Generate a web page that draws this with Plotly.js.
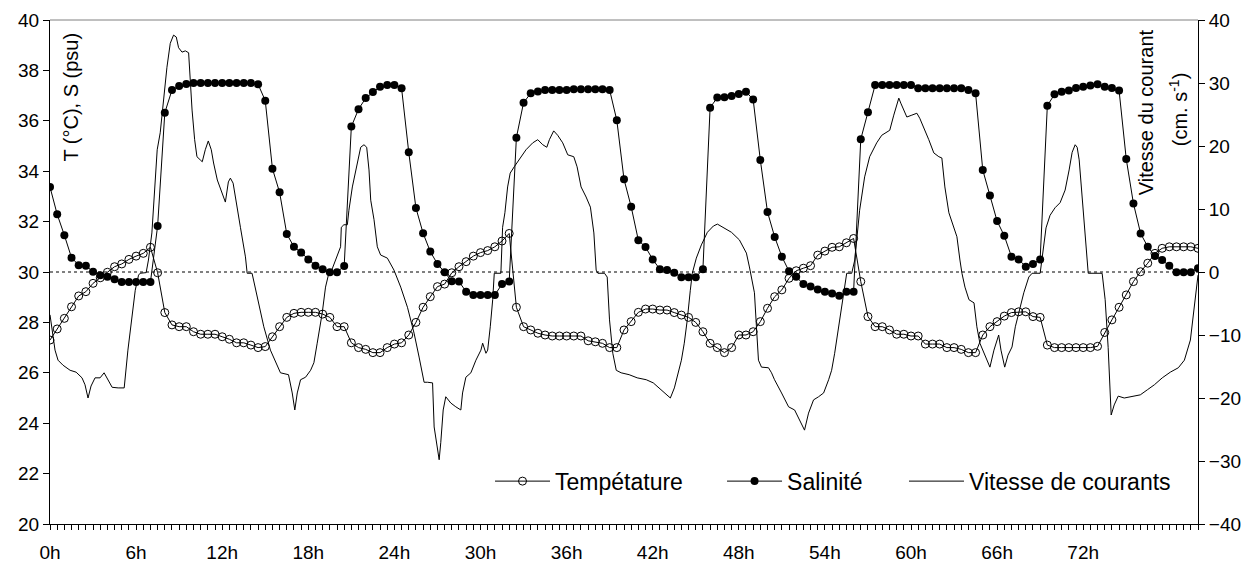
<!DOCTYPE html>
<html>
<head>
<meta charset="utf-8">
<script src="https://cdn.plot.ly/plotly-3.0.1.min.js"></script>
<style>
  html, body { margin: 0; padding: 0; background: #fff; }
  #chart { width: 1254px; height: 565px; }
</style>
</head>
<body>
<div id="chart"></div>
<script>
// Half-hourly sampling of temperature and salinity (hours 0 to 80)
const STEP_H = 0.5;

const temperature = [
  27.3, 27.74, 28.16, 28.62, 29.05, 29.22, 29.55, 29.77, 29.99, 30.21,
  30.32, 30.5, 30.63, 30.74, 30.98, 29.97, 28.39, 27.9, 27.83, 27.83,
  27.63, 27.53, 27.53, 27.53, 27.43, 27.33, 27.19, 27.19, 27.1, 27.0,
  27.04, 27.43, 27.83, 28.2, 28.36, 28.4, 28.4, 28.4, 28.33, 28.2,
  27.83, 27.83, 27.19, 27.0, 26.93, 26.8, 26.8, 27.0, 27.14, 27.19,
  27.5, 28.0, 28.6, 29.02, 29.42, 29.52, 29.97, 30.21, 30.41, 30.63,
  30.77, 30.85, 31.0, 31.23, 31.53, 28.6, 27.83, 27.7, 27.57, 27.5,
  27.46, 27.46, 27.46, 27.46, 27.46, 27.27, 27.23, 27.17, 27.0, 27.0,
  27.7, 28.03, 28.4, 28.53, 28.53, 28.49, 28.49, 28.39, 28.29, 28.2,
  28.0, 27.63, 27.17, 27.0, 26.8, 27.0, 27.5, 27.5, 27.63, 28.03,
  28.56, 29.02, 29.29, 29.75, 30.05, 30.15, 30.25, 30.67, 30.83, 30.98,
  31.0, 31.16, 31.33, 29.62, 28.23, 27.83, 27.83, 27.7, 27.53, 27.53,
  27.46, 27.46, 27.14, 27.14, 27.14, 27.0, 27.0, 26.93, 26.8, 26.8,
  27.5, 27.83, 28.03, 28.25, 28.39, 28.42, 28.42, 28.23, 28.2, 27.1,
  27.0, 27.0, 27.0, 27.0, 27.0, 27.0, 27.05, 27.6, 28.1, 28.6,
  29.09, 29.62, 30.01, 30.35, 30.74, 30.94, 31.0, 31.0, 31.0, 31.0,
  30.94
];

const salinity = [
  33.37, 32.29, 31.46, 30.57, 30.27, 30.25, 30.01, 29.87, 29.81, 29.71,
  29.6, 29.6, 29.6, 29.6, 29.6, 31.83, 36.32, 37.22, 37.38, 37.46,
  37.5, 37.5, 37.5, 37.5, 37.5, 37.5, 37.5, 37.5, 37.5, 37.45,
  36.8, 34.1, 33.16, 31.51, 31.0, 30.77, 30.5, 30.25, 30.11, 29.99,
  29.99, 30.24, 35.77, 36.46, 36.9, 37.14, 37.35, 37.42, 37.42, 37.29,
  34.75, 32.54, 31.54, 30.81, 30.32, 29.99, 29.63, 29.62, 29.22, 29.09,
  29.09, 29.09, 29.09, 29.52, 29.62, 35.33, 36.72, 37.09, 37.16, 37.22,
  37.22, 37.22, 37.22, 37.25, 37.25, 37.25, 37.25, 37.25, 37.22, 36.02,
  33.68, 32.59, 31.26, 30.99, 30.5, 30.11, 30.08, 29.97, 29.79, 29.79,
  29.79, 30.11, 36.52, 36.92, 36.93, 36.98, 37.06, 37.15, 36.85, 34.44,
  32.38, 31.39, 30.61, 30.03, 29.81, 29.52, 29.42, 29.31, 29.22, 29.15,
  29.06, 29.22, 29.22, 35.27, 36.34, 37.42, 37.42, 37.42, 37.42, 37.42,
  37.42, 37.29, 37.29, 37.29, 37.29, 37.29, 37.29, 37.29, 37.22, 37.09,
  34.05, 33.04, 32.02, 31.44, 30.61, 30.5, 30.21, 30.32, 30.5, 36.6,
  37.05, 37.15, 37.2, 37.3, 37.35, 37.4, 37.45, 37.35, 37.3, 37.2,
  34.48, 32.72, 31.53, 31.0, 30.63, 30.48, 30.25, 29.99, 29.99, 29.99,
  30.15
];

// Current speed record (hours, cm/s)
const velHours = [
  0.00, 0.14, 0.35, 0.56, 0.91, 1.40, 1.82, 2.23, 2.44, 2.65,
  2.86, 3.14, 3.49, 3.77, 4.05, 4.33, 4.75, 5.17, 5.43, 5.71,
  5.94, 6.17, 6.28, 6.70, 6.86, 7.10, 7.33, 7.47, 7.68, 7.89,
  8.15, 8.38, 8.61, 8.80, 8.96, 9.20, 9.43, 9.66, 9.78, 9.90,
  10.08, 10.24, 10.47, 10.61, 10.82, 11.03, 11.24, 11.40, 11.66, 11.99,
  12.22, 12.43, 12.57, 12.76, 12.99, 13.27, 13.62, 13.74, 14.08, 14.43,
  14.90, 15.36, 16.06, 16.62, 16.88, 17.06, 17.23, 17.46, 17.81, 18.16,
  18.39, 18.62, 18.97, 19.20, 19.43, 19.55, 19.90, 20.25, 20.30, 20.48,
  20.72, 20.83, 21.07, 21.37, 21.65, 21.88, 22.07, 22.23, 22.35, 22.58,
  22.81, 23.04, 23.51, 23.97, 24.44, 24.91, 25.37, 25.72, 26.07, 26.31,
  26.66, 26.77, 26.96, 27.12, 27.23, 27.40, 27.58, 27.93, 28.28, 28.63,
  28.75, 28.98, 29.33, 29.68, 30.03, 30.15, 30.38, 30.50, 30.68, 30.85,
  30.96, 31.42, 31.54, 31.70, 31.89, 32.07, 32.35, 32.82, 33.17, 33.64,
  33.99, 34.34, 34.62, 34.80, 35.10, 35.38, 35.73, 36.08, 36.50, 36.73,
  37.01, 37.36, 37.66, 37.90, 38.06, 38.18, 38.64, 38.83, 38.99, 39.22,
  39.46, 39.80, 40.36, 40.92, 41.55, 42.04, 42.60, 42.95, 43.23, 43.51,
  43.79, 44.00, 44.20, 44.41, 44.62, 44.76, 45.04, 45.39, 45.81, 46.23,
  46.51, 46.93, 47.49, 48.04, 48.53, 48.74, 49.09, 49.23, 49.37, 49.58,
  50.07, 50.28, 50.49, 50.98, 51.47, 51.89, 52.23, 52.58, 52.86, 53.21,
  53.56, 53.91, 54.26, 54.47, 54.68, 54.96, 55.31, 55.52, 55.87, 56.08,
  56.42, 56.77, 57.12, 57.61, 57.96, 58.31, 58.52, 58.80, 59.01, 59.15,
  59.29, 59.50, 59.71, 60.06, 60.41, 60.61, 60.89, 61.24, 61.59, 61.94,
  62.15, 62.36, 62.64, 62.99, 63.20, 63.41, 63.55, 63.76, 64.04, 64.39,
  64.59, 64.80, 65.08, 65.29, 65.50, 65.78, 66.11, 66.27, 66.53, 66.76,
  67.04, 67.27, 67.51, 67.86, 68.21, 68.44, 69.00, 69.20, 69.41, 69.69,
  70.04, 70.39, 70.74, 71.02, 71.23, 71.44, 71.58, 71.72, 71.93, 72.14,
  72.35, 73.32, 73.53, 73.74, 73.95, 74.16, 74.44, 74.86, 75.42, 75.98,
  76.47, 76.96, 77.51, 78.07, 78.63, 79.05, 79.47, 79.82, 80.00
];

const velocity = [
  -6.8, -9.2, -12.4, -14.0, -14.8, -15.6, -15.9, -16.8, -17.9, -20.0,
  -18.1, -16.8, -16.8, -16.0, -17.1, -18.3, -18.4, -18.4, -12.4, -7.1,
  -2.9, -0.5, -0.2, -0.1, 1.9, 6.2, 14.1, 19.4, 22.1, 27.3,
  32.5, 36.3, 37.6, 37.3, 35.6, 34.9, 35.1, 34.8, 30.0, 25.7,
  21.0, 18.3, 17.8, 17.5, 19.4, 20.8, 19.4, 17.3, 14.6, 12.5,
  11.1, 14.3, 14.9, 14.1, 10.6, 7.1, 2.4, -0.2, -0.2, -4.0,
  -8.7, -12.4, -16.0, -16.3, -19.2, -21.9, -19.2, -17.1, -16.7, -15.6,
  -14.4, -11.3, -6.5, -2.4, -0.2, -0.2, 1.9, 4.0, 7.1, 7.5,
  7.5, 9.8, 13.5, 16.7, 19.8, 20.2, 19.8, 16.2, 11.4, 8.3,
  4.0, 2.7, 2.2, 0.3, -2.4, -5.6, -9.7, -13.5, -17.5, -17.5,
  -17.6, -24.6, -27.1, -29.8, -27.1, -21.9, -19.8, -20.8, -21.4, -21.9,
  -19.2, -16.7, -16.0, -14.0, -12.4, -11.3, -12.9, -12.4, -8.7, -4.4,
  -0.2, -0.2, 7.1, 9.4, 13.5, 15.7, 16.7, 18.3, 19.4, 20.5,
  21.0, 20.2, 19.8, 21.0, 22.4, 21.7, 20.5, 18.6, 18.3, 16.7,
  13.5, 11.9, 10.3, 6.2, 0.3, -0.2, -0.2, -0.8, -7.6, -12.9,
  -15.6, -16.0, -16.3, -16.8, -17.1, -17.6, -18.7, -19.5, -20.0, -18.4,
  -15.9, -14.0, -11.3, -7.6, -2.9, -0.2, 2.2, 4.3, 6.3, 7.3,
  7.6, 7.1, 6.3, 5.1, 3.0, 0.8, -3.3, -8.7, -14.0, -15.1,
  -15.2, -16.0, -17.1, -19.2, -21.4, -21.9, -23.5, -25.1, -22.4, -20.3,
  -19.8, -19.2, -17.1, -15.6, -12.9, -8.7, -3.3, -0.2, -0.2, 1.9,
  9.8, 15.1, 18.3, 20.5, 21.7, 22.2, 22.5, 24.9, 26.8, 27.6,
  26.8, 25.7, 24.6, 24.9, 25.2, 24.4, 23.0, 21.0, 18.9, 18.3,
  18.1, 13.5, 9.4, 7.1, 5.6, 1.9, -0.2, -2.4, -4.4, -4.9,
  -8.7, -11.3, -12.9, -14.0, -15.1, -12.4, -10.0, -12.4, -15.1, -13.2,
  -11.9, -8.7, -6.5, -3.3, -0.8, -0.2, -0.2, 3.5, 7.0, 9.0,
  10.2, 11.0, 13.0, 16.2, 19.0, 20.2, 19.8, 17.8, 11.4, 5.1,
  -0.2, -0.2, -4.4, -12.0, -22.7, -21.1, -19.7, -20.0, -19.8, -19.5,
  -18.7, -17.9, -16.8, -15.9, -15.2, -14.0, -10.8, -4.4, -0.5
];

// Labelled hours along the time axis
const hourTicks = [0, 6, 12, 18, 24, 30, 36, 42, 48, 54, 60, 66, 72];
const hourLabels = hourTicks.map(h => h + 'h');

const seriesNames = ['Tempétature', 'Salinité', 'Vitesse de courants'];

const hours = temperature.map((_, i) => i * STEP_H);

const FONT = 'Liberation Sans, Arial, sans-serif';

const traces = [
  {
    x: velHours, y: velocity, yaxis: 'y2', name: seriesNames[2],
    mode: 'lines', line: { color: '#000', width: 1 },
    legend: 'legend3', hoverinfo: 'skip'
  },
  {
    x: hours, y: temperature, name: seriesNames[0],
    mode: 'lines+markers',
    line: { color: '#000', width: 1 },
    marker: { symbol: 'circle-open', size: 8, color: '#000', line: { width: 1, color: '#000' } },
    legend: 'legend'
  },
  {
    x: hours, y: salinity, name: seriesNames[1],
    mode: 'lines+markers',
    line: { color: '#000', width: 1 },
    marker: { symbol: 'circle', size: 8, color: '#000' },
    legend: 'legend2'
  }
];

// one legend box per series so each entry sits at its own place along the row
function legendBox(xPaper) {
  return {
    orientation: 'h', x: xPaper, y: 0.085, xanchor: 'left', yanchor: 'middle',
    font: { family: FONT, size: 23, color: '#000' },
    bgcolor: 'rgba(0,0,0,0)', borderwidth: 0, itemwidth: 55
  };
}

const layout = {
  width: 1254, height: 565,
  margin: { l: 50, r: 56, t: 20, b: 41, pad: 0 },
  paper_bgcolor: '#fff', plot_bgcolor: '#fff',
  font: { family: FONT, size: 19, color: '#000' },
  showlegend: true,
  legend: legendBox(0.3833),
  legend2: legendBox(0.5854),
  legend3: legendBox(0.7439),
  xaxis: {
    range: [0, 80], showgrid: false, zeroline: false,
    showline: true, linecolor: '#000', linewidth: 1,
    tickmode: 'array', tickvals: hourTicks, ticktext: hourLabels,
    ticks: 'outside', ticklen: 5, tickcolor: '#000', tickwidth: 1,
    minor: { tickmode: 'linear', tick0: 0, dtick: STEP_H, ticks: 'outside', ticklen: 5, tickcolor: '#000', tickwidth: 1, showgrid: false },
    tickfont: { family: FONT, size: 19, color: '#000' },
    ticklabelstandoff: 6
  },
  yaxis: {
    range: [20, 40], dtick: 2, tick0: 20, showgrid: false, zeroline: false,
    showline: true, linecolor: '#000', linewidth: 1,
    ticks: 'outside', ticklen: 6, tickcolor: '#000',
    tickfont: { family: FONT, size: 19, color: '#000' }
  },
  yaxis2: {
    range: [-40, 40], dtick: 10, overlaying: 'y', side: 'right',
    showgrid: false, zeroline: false,
    showline: true, linecolor: '#000', linewidth: 1,
    ticks: 'outside', ticklen: 6, tickcolor: '#000',
    tickfont: { family: FONT, size: 19, color: '#000' }
  },
  shapes: [
    // zero-speed reference line
    { type: 'line', xref: 'paper', x0: 0, x1: 1, yref: 'y2', y0: 0, y1: 0,
      line: { color: '#000', width: 1, dash: 'dot' }, layer: 'below' },
    // top frame
    { type: 'line', xref: 'paper', x0: 0, x1: 1, yref: 'paper', y0: 1, y1: 1,
      line: { color: '#808080', width: 1 } }
  ],
  annotations: [
    { text: 'T (°C), S (psu)', textangle: -90, xref: 'paper', yref: 'paper',
      x: 0.0183, y: 0.846, xanchor: 'center', yanchor: 'middle', showarrow: false,
      font: { family: FONT, size: 20, color: '#000' } },
    { text: 'Vitesse du courant', textangle: -90, xref: 'paper', yref: 'paper',
      x: 0.9547, y: 0.817, xanchor: 'center', yanchor: 'middle', showarrow: false,
      font: { family: FONT, size: 20, color: '#000' } },
    { text: '(cm. s<sup>-1</sup>)', textangle: -90, xref: 'paper', yref: 'paper',
      x: 0.9826, y: 0.823, xanchor: 'center', yanchor: 'middle', showarrow: false,
      font: { family: FONT, size: 20, color: '#000' } }
  ]
};

Plotly.newPlot('chart', traces, layout, { displayModeBar: false, staticPlot: true });
</script>
</body>
</html>
